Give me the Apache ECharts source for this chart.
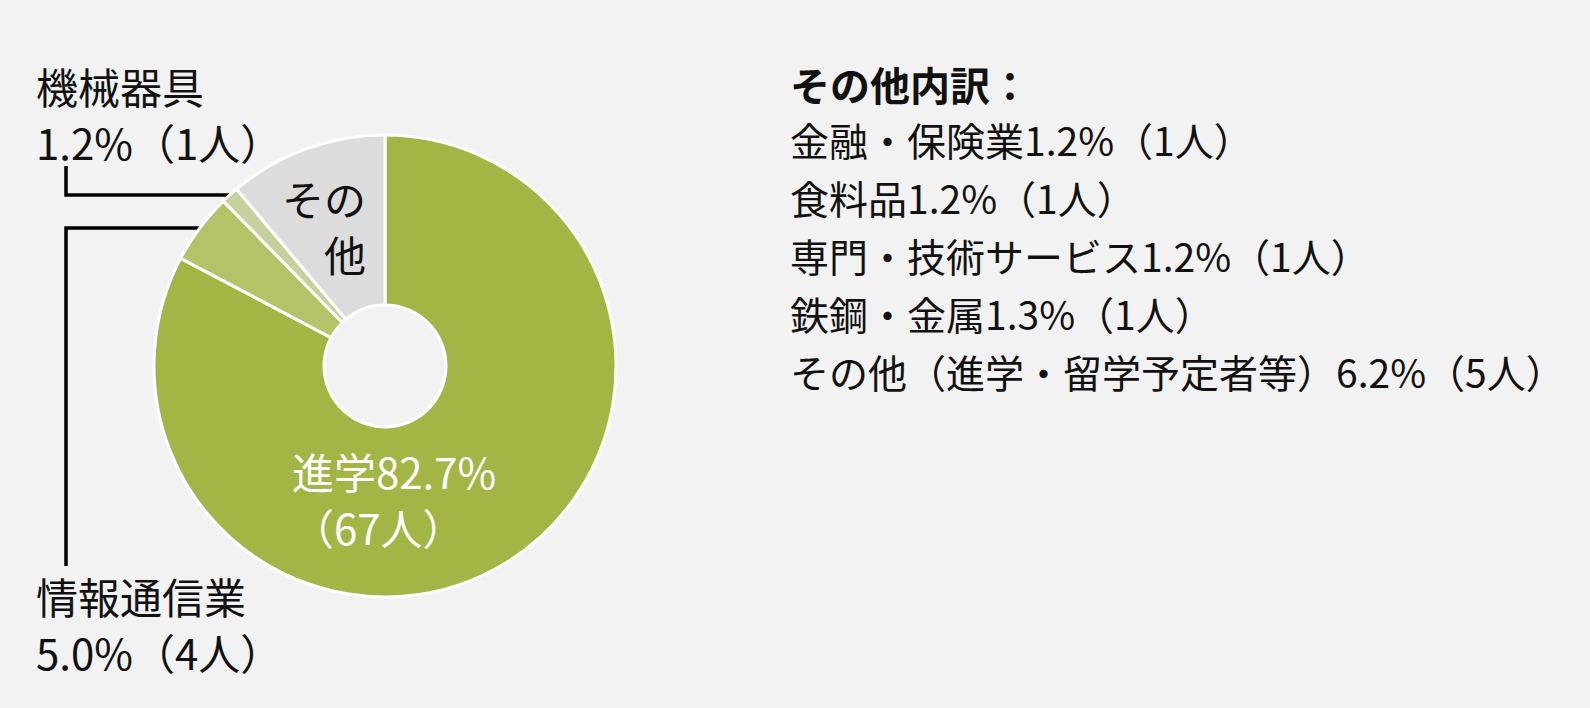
<!DOCTYPE html>
<html>
<head>
<meta charset="utf-8">
<script src="https://cdn.jsdelivr.net/npm/echarts@6/dist/echarts.min.js"></script>
<style>
  html, body { margin: 0; background: #f2f2f2; }
  #main { width: 1590px; height: 708px; }
</style>
</head>
<body>
<div id="main"></div>
<script>
// 卒業後の進路（人数）
const categories = ['進学', '情報通信業', '機械器具', 'その他'];
const counts = [67, 4, 1, 9];
const percents = ['82.7%', '5.0%', '1.2%', '11.1%'];
const sliceColors = ['#a3b545', '#b4c268', '#c5d19d', '#dcdcdc'];

// その他内訳
const otherTitle = 'その他内訳：';
const otherNames = ['金融・保険業', '食料品', '専門・技術サービス', '鉄鋼・金属', 'その他（進学・留学予定者等）'];
const otherPercents = ['1.2%', '1.2%', '1.2%', '1.3%', '6.2%'];
const otherCounts = [1, 1, 1, 1, 5];

const FONT = '"Noto Sans CJK JP", "Noto Sans", sans-serif';
const TEXT = '#111';

let chart = echarts.init(document.getElementById('main'), null, { renderer: 'svg' });

function labelText(i) {
    if (i === 0) return categories[i] + percents[i] + '\n（' + counts[i] + '人）';
    if (i === 3) return 'その\n他';
    return categories[i] + '\n' + percents[i] + '（' + counts[i] + '人）';
}

const pieData = categories.map((name, i) => {
    const inside = i === 0 || i === 3;
    return {
        name: name,
        value: counts[i],
        itemStyle: { color: sliceColors[i] },
        label: {
            position: inside ? 'inside' : 'outside',
            color: i === 0 ? '#fff' : TEXT
        },
        labelLine: { show: !inside }
    };
});

// 引き出し線：扇形の外周中点から水平に左へ、そこから縦にラベルへ
function layoutLabel(p) {
    const start = p.labelLinePoints ? p.labelLinePoints[0] : null;
    switch (p.dataIndex) {
        case 0:
            return { x: 292, y: 498, align: 'left', verticalAlign: 'middle' };
        case 1:
            return {
                x: 36, y: 623, align: 'left', verticalAlign: 'middle',
                labelLinePoints: start ? [start, [66, start[1]], [66, 566]] : undefined
            };
        case 2:
            return {
                x: 36, y: 113, align: 'left', verticalAlign: 'middle',
                labelLinePoints: start ? [start, [66, start[1]], [66, 166]] : undefined
            };
        default:
            return { x: 366, y: 225, align: 'right', verticalAlign: 'middle' };
    }
}

const listLines = otherNames.map((n, i) => n + otherPercents[i] + '（' + otherCounts[i] + '人）');

const graphics = [{
    type: 'text',
    x: 790, y: 84,
    style: { text: otherTitle, fontSize: 40, fontWeight: 'bold', fontFamily: FONT, fill: TEXT, verticalAlign: 'middle' }
}].concat(listLines.map((t, i) => ({
    type: 'text',
    x: 790, y: 139 + i * 58,
    style: { text: t, fontSize: 39, fontFamily: FONT, fill: TEXT, verticalAlign: 'middle' }
})));

const option = {
    backgroundColor: '#f2f2f2',
    animation: false,
    textStyle: { fontFamily: FONT },
    graphic: graphics,
    series: [{
        type: 'pie',
        center: [385, 366],
        radius: [61, 231],
        startAngle: 90,
        clockwise: true,
        silent: true,
        avoidLabelOverlap: false,
        itemStyle: { borderColor: '#fff', borderWidth: 3 },
        label: {
            show: true,
            formatter: p => labelText(p.dataIndex),
            fontSize: 42,
            lineHeight: 56,
            fontFamily: FONT,
            color: TEXT
        },
        labelLine: {
            show: true,
            length: 10,
            length2: 10,
            smooth: false,
            lineStyle: { color: '#000', width: 3.5 }
        },
        labelLayout: layoutLabel,
        data: pieData
    }]
};

chart.setOption(option);
</script>
</body>
</html>
